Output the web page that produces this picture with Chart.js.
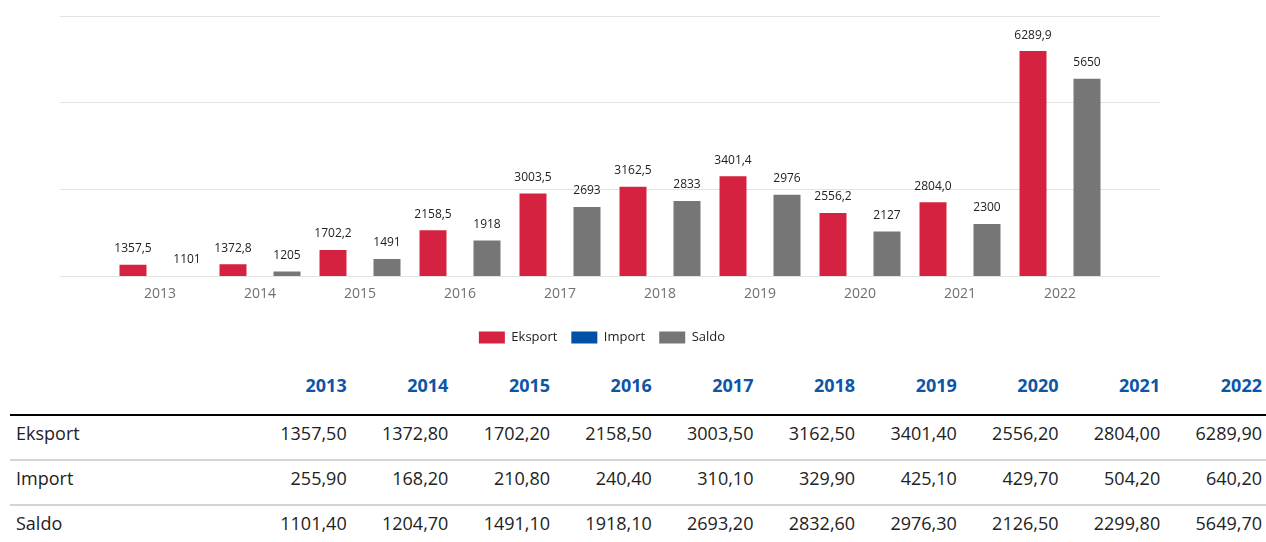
<!DOCTYPE html>
<html>
<head>
<meta charset="utf-8">
<script src="https://cdn.jsdelivr.net/npm/chart.js@4/dist/chart.umd.min.js"></script>
<style>
  html, body {
    margin: 0;
    padding: 0;
    background: #fff;
    font-family: "Open Sans", sans-serif;
  }
  #chart_box {
    position: relative;
    width: 1266px;
    height: 360px;
  }
  #data_table {
    margin-left: 10px;
    width: 1256px;
    border-collapse: separate;
    border-spacing: 0;
    table-layout: fixed;
    font-size: 18px;
    line-height: 24px;
    color: #222;
  }
  #data_table th,
  #data_table td {
    padding: 5px 4px 14px 4px;
    text-align: right;
    white-space: nowrap;
    border-bottom: 2px solid #d4d4d4;
  }
  #data_table thead th {
    padding-top: 13px;
    padding-bottom: 17px;
    color: #0d55a7;
    font-weight: bold;
    border-bottom: 2px solid #000;
  }
  #data_table td.name {
    text-align: left;
    padding-left: 6px;
  }
  #data_table tr:last-child td {
    border-bottom: none;
  }
</style>
</head>
<body>
<div id="chart_box"><canvas id="trade_chart"></canvas></div>
<table id="data_table">
  <colgroup id="cols"></colgroup>
  <thead><tr id="head_row"><th></th></tr></thead>
  <tbody id="body_rows"></tbody>
</table>
<script>
const years = ["2013", "2014", "2015", "2016", "2017", "2018", "2019", "2020", "2021", "2022"];
const eksport = [1357.5, 1372.8, 1702.2, 2158.5, 3003.5, 3162.5, 3401.4, 2556.2, 2804.0, 6289.9];
const importVals = [255.9, 168.2, 210.8, 240.4, 310.1, 329.9, 425.1, 429.7, 504.2, 640.2];
const saldo = [1101.4, 1204.7, 1491.1, 1918.1, 2693.2, 2832.6, 2976.3, 2126.5, 2299.8, 5649.7];

const seriesNames = ["Eksport", "Import", "Saldo"];
const seriesColors = ["#d52241", "#0051a5", "#767676"];

// empty slot on each side so the years sit 100px apart inside the wide grid
const pad = (arr, blank) => [blank, ...arr, blank];

const fmtEksport = (v) => v.toFixed(1).replace(".", ",");
const fmtSaldo = (v) => String(Math.round(v));
const fmtTable = (v) => v.toFixed(2).replace(".", ",");

const barLabels = {
  id: "barLabels",
  afterLayout: (chart) => {
    // legend sits a bit left of the plot centre in the original
    chart.legend.left -= 8;
    chart.legend.right -= 8;
  },
  afterDatasetsDraw: (chart) => {
    const { ctx } = chart;
    ctx.save();
    ctx.font = "12px 'Open Sans'";
    ctx.fillStyle = "#222";
    ctx.textAlign = "center";
    ctx.textBaseline = "middle";
    [0, 2].forEach((di) => {
      const meta = chart.getDatasetMeta(di);
      const values = chart.data.datasets[di].data;
      meta.data.forEach((bar, i) => {
        const v = values[i];
        if (v === null || v === undefined) return;
        const text = di === 0 ? fmtEksport(v) : fmtSaldo(v);
        ctx.fillText(text, bar.x, bar.y - 16);
      });
    });
    ctx.restore();
  },
};

let chart = new Chart(document.getElementById("trade_chart"), {
  type: "bar",
  data: {
    labels: pad(years, ""),
    datasets: [
      { label: seriesNames[0], data: pad(eksport, null), backgroundColor: seriesColors[0] },
      { label: seriesNames[1], data: pad(importVals, null), backgroundColor: seriesColors[1] },
      { label: seriesNames[2], data: pad(saldo, null), backgroundColor: seriesColors[2] },
    ],
  },
  options: {
    responsive: true,
    maintainAspectRatio: false,
    animation: false,
    layout: {
      padding: { left: 60, right: 106, top: 16, bottom: 6 },
    },
    datasets: {
      bar: {
        categoryPercentage: 0.81,
        barPercentage: 1,
        clip: 0,
      },
    },
    scales: {
      x: {
        offset: false,
        grid: { display: false, drawTicks: false },
        border: { display: false },
        ticks: {
          padding: 10,
          autoSkip: false,
          maxRotation: 0,
          color: "#707070",
          font: { family: "Open Sans", size: 14 },
        },
        afterFit: (scale) => {
          scale.height = 41;
        },
      },
      y: {
        min: 1100,
        max: 7100,
        ticks: { stepSize: 2000, display: false },
        grid: { color: "#e2e2e2", drawTicks: false },
        border: { display: false },
      },
    },
    plugins: {
      legend: {
        position: "bottom",
        labels: {
          boxWidth: 26,
          boxHeight: 12,
          padding: 14,
          color: "#222",
          font: { family: "Open Sans", size: 13 },
        },
      },
      tooltip: { enabled: false },
    },
  },
  plugins: [barLabels],
});

// table under the chart
const cols = document.getElementById("cols");
const firstCol = document.createElement("col");
firstCol.style.width = "239px";
cols.appendChild(firstCol);
years.forEach(() => {
  const c = document.createElement("col");
  c.style.width = "101.7px";
  cols.appendChild(c);
});

const headRow = document.getElementById("head_row");
years.forEach((y) => {
  const th = document.createElement("th");
  th.textContent = y;
  headRow.appendChild(th);
});

const body = document.getElementById("body_rows");
[eksport, importVals, saldo].forEach((vals, si) => {
  const tr = document.createElement("tr");
  const name = document.createElement("td");
  name.className = "name";
  name.textContent = seriesNames[si];
  tr.appendChild(name);
  vals.forEach((v) => {
    const td = document.createElement("td");
    td.textContent = fmtTable(v);
    tr.appendChild(td);
  });
  body.appendChild(tr);
});
</script>
</body>
</html>
